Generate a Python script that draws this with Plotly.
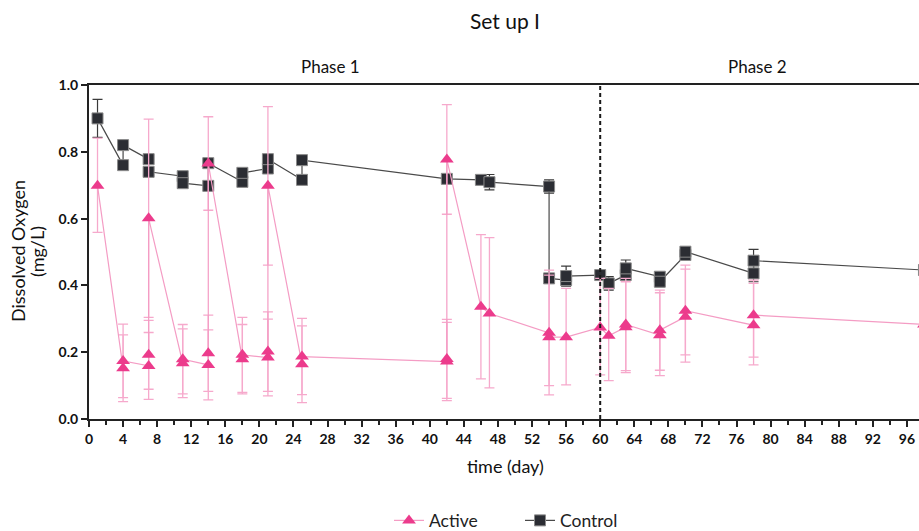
import plotly.graph_objects as go

# Dissolved oxygen, set up I — sampling days and measured values (mg/L)
active_day = [1, 4, 4, 7, 7, 7, 11, 11, 14, 14, 14, 18, 18, 21, 21, 21, 25, 25,
              42, 42, 42, 46, 47, 54, 54, 56, 60, 61, 63, 63, 67, 67, 70, 70, 78, 78, 98]
active_do = [0.698, 0.152, 0.174, 0.159, 0.192, 0.601, 0.167, 0.179, 0.162, 0.197, 0.765,
             0.179, 0.192, 0.184, 0.202, 0.698, 0.164, 0.187, 0.172, 0.180, 0.777,
             0.336, 0.316, 0.258, 0.245, 0.245, 0.274, 0.249, 0.275, 0.283, 0.251, 0.266,
             0.306, 0.324, 0.281, 0.311, 0.283]
active_err_hi = [0.143, 0.100, 0.110, 0.100, 0.103, 0.297, 0.103, 0.104, 0.105, 0.114, 0.140,
                 0.104, 0.112, 0.115, 0.119, 0.237, 0.115, 0.114, 0.117, 0.118, 0.164,
                 0.216, 0.227, 0.188, 0.186, 0.146, 0.147, 0.142, 0.136, 0.138, 0.127, 0.120,
                 0.143, 0.137, 0.125, 0.105, 0.120]
active_err_lo = [0.139, 0.100, 0.110, 0.100, 0.103, 0.297, 0.103, 0.104, 0.105, 0.114, 0.140,
                 0.104, 0.112, 0.115, 0.119, 0.237, 0.115, 0.114, 0.117, 0.118, 0.164,
                 0.216, 0.223, 0.158, 0.173, 0.143, 0.142, 0.134, 0.136, 0.138, 0.121, 0.120,
                 0.136, 0.132, 0.119, 0.126, 0.110]

control_day = [1, 4, 4, 7, 7, 11, 11, 14, 14, 18, 18, 21, 21, 25, 25, 42, 46, 47, 54, 54,
               56, 56, 60, 61, 63, 63, 67, 67, 70, 70, 78, 78, 98]
control_do = [0.900, 0.760, 0.820, 0.778, 0.740, 0.727, 0.706, 0.698, 0.766, 0.710, 0.737,
              0.750, 0.778, 0.716, 0.775, 0.719, 0.716, 0.709, 0.696, 0.421,
              0.416, 0.428, 0.431, 0.406, 0.431, 0.451, 0.426, 0.411, 0.491, 0.501,
              0.436, 0.474, 0.446]
control_err = [0.057, 0.010, 0.010, 0.010, 0.010, 0.010, 0.010, 0.010, 0.010, 0.010, 0.010,
               0.010, 0.010, 0.010, 0.010, 0.010, 0.010, 0.023, 0.020, 0.012,
               0.012, 0.030, 0.010, 0.020, 0.015, 0.025, 0.012, 0.015, 0.012, 0.012,
               0.025, 0.034, 0.012]

x_ticks = list(range(0, 97, 4))
y_ticks = [0.0, 0.2, 0.4, 0.6, 0.8, 1.0]
phase_split = 60

FONT = "Lato"
W, H = 919, 531
L, R, T, B = 89, 0, 85, 112
plot_w = W - L - R
plot_h = H - T - B
px_per_day = 8.52
x_max = plot_w / px_per_day


def py(y_px):
    """Pixel row -> paper y."""
    return (H - B - y_px) / plot_h


def pxp(x_px):
    """Pixel column -> paper x."""
    return (x_px - L) / plot_w


fig = go.Figure()

fig.add_trace(go.Scatter(
    x=control_day, y=control_do, name="Control", mode="lines+markers",
    line=dict(color="#4a4a4a", width=1.2),
    marker=dict(symbol="square", size=11, color="#2b2d33",
                line=dict(color="#8a8a8a", width=1)),
    error_y=dict(type="data", array=control_err, color="#3a3a3a",
                 thickness=1.2, width=5),
    legendrank=2,
))

fig.add_trace(go.Scatter(
    x=active_day, y=active_do, name="Active", mode="lines+markers",
    line=dict(color="#f49cc4", width=1.2),
    marker=dict(symbol="triangle-up", size=12, color="#ec3b8c",
                line=dict(width=0)),
    error_y=dict(type="data", symmetric=False, array=active_err_hi,
                 arrayminus=active_err_lo, color="#f6a9cc",
                 thickness=1.3, width=5),
    legendrank=1,
))

# Phase boundary
fig.add_shape(type="line", xref="x", yref="y", x0=phase_split, x1=phase_split,
              y0=0, y1=1, line=dict(color="#1a1a1a", width=2, dash="4px,3px"))


def label(text, x, y, xref="paper", size=18, angle=0):
    return dict(text=text, x=x, y=y, xref=xref, yref="paper",
                xanchor="center", yanchor="middle", textangle=angle,
                showarrow=False, font=dict(family=FONT, size=size, color="#111"))


annotations = [
    label("Set up I", pxp(505), py(20), size=21),
    label("Phase 1", 28.4, py(67), xref="x", size=17),
    label("Phase 2", 78.5, py(67), xref="x", size=17),
    label("time (day)", pxp(506), py(466)),
    label("Dissolved Oxygen", pxp(18), py(251), angle=-90),
    label("(mg/L)", pxp(37), py(251), angle=-90),
]

fig.update_layout(
    width=W, height=H,
    margin=dict(l=L, r=R, t=T, b=B, pad=0, autoexpand=False),
    paper_bgcolor="white", plot_bgcolor="white",
    font=dict(family=FONT, color="#111"),
    annotations=annotations,
    showlegend=True,
    legend=dict(orientation="h", xref="container", x=520 / W, xanchor="center",
                yref="container", y=1 - 520.5 / H, yanchor="middle",
                font=dict(family=FONT, size=17.5, color="#222"),
                itemwidth=30, entrywidth=86, bgcolor="rgba(0,0,0,0)"),
)

fig.update_xaxes(
    range=[0, x_max], tickmode="array", tickvals=x_ticks,
    ticktext=[str(t) for t in x_ticks],
    showline=True, linecolor="#222", linewidth=2, mirror=True,
    ticks="outside", ticklen=6, tickwidth=2, tickcolor="#222",
    minor=dict(dtick=2, tick0=0, ticks="outside", ticklen=4, tickwidth=1.5,
               tickcolor="#222", showgrid=False),
    showgrid=False, zeroline=False, automargin=False,
    tickfont=dict(family=FONT, size=14, color="#111", weight="bold"),
)
fig.update_yaxes(
    range=[0, 1.0], tickmode="array", tickvals=y_ticks,
    ticktext=[f"{t:.1f}" for t in y_ticks],
    showline=True, linecolor="#222", linewidth=2,
    ticks="outside", ticklen=6, tickwidth=2, tickcolor="#222",
    showgrid=False, zeroline=False, automargin=False,
    tickfont=dict(family=FONT, size=14, color="#111", weight="bold"),
)

fig.write_html("out.html")
